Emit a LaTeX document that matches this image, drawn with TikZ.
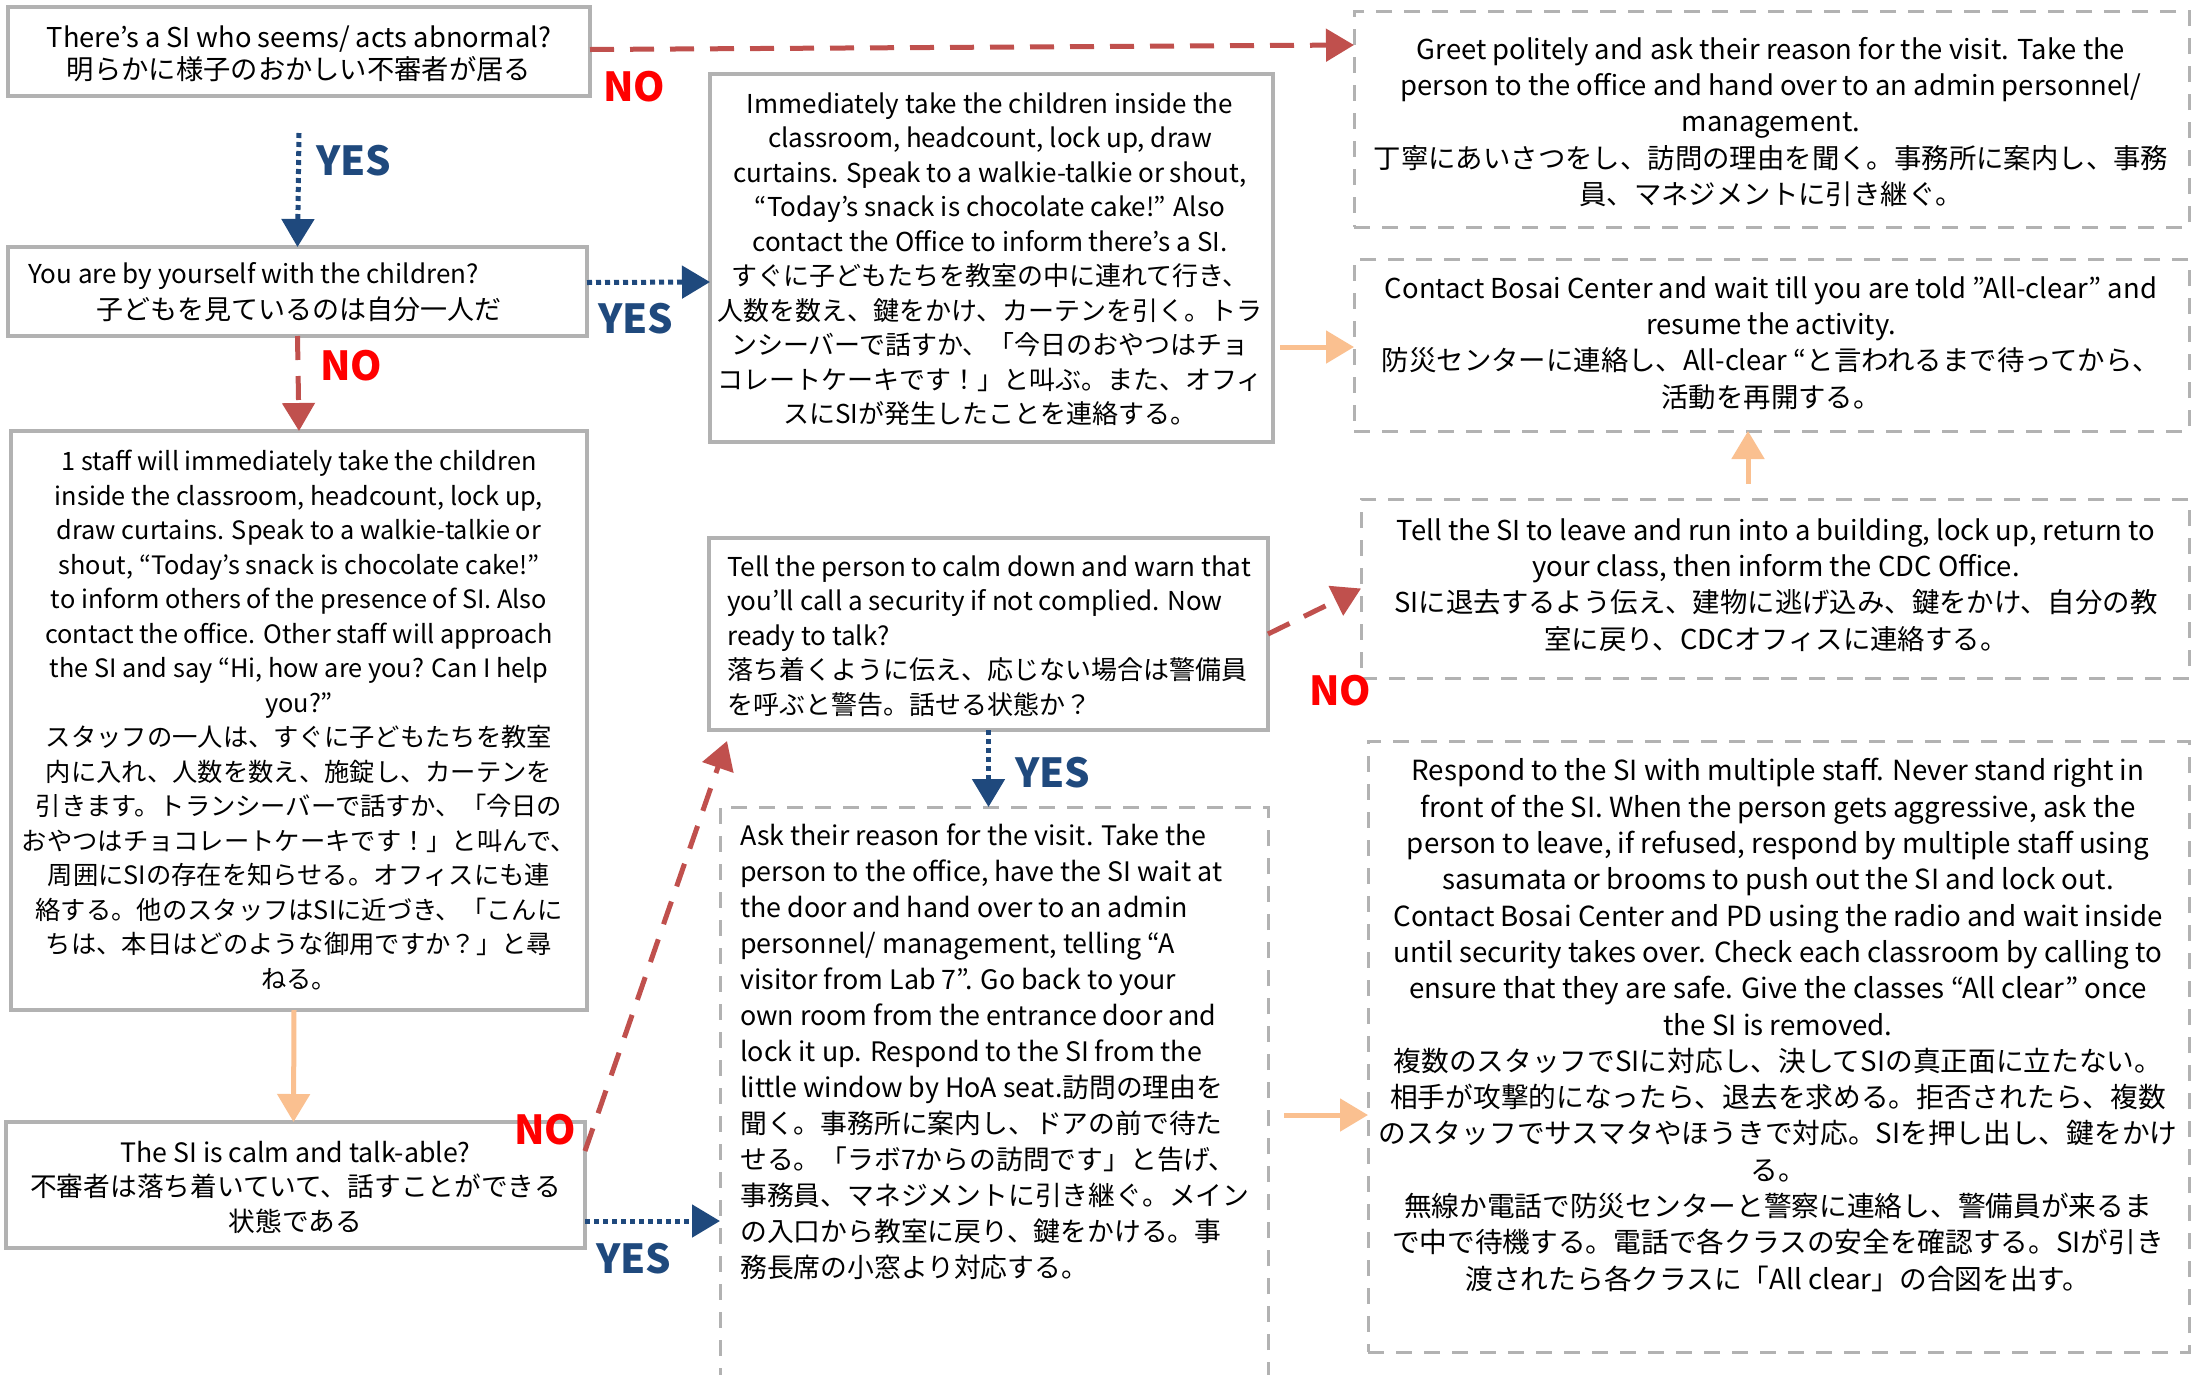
\documentclass[tikz,border=0pt]{standalone}
\usepackage{fontspec}
\setmainfont{Noto Sans CJK JP}
\usetikzlibrary{arrows.meta,calc}
\definecolor{boxgray}{RGB}{178,178,178}
\definecolor{arrred}{RGB}{192,80,77}
\definecolor{nored}{RGB}{255,0,0}
\definecolor{yesblue}{RGB}{31,73,125}
\definecolor{peach}{RGB}{250,192,144}
\begin{document}
\begin{tikzpicture}[x=1pt,y=-1pt,
  box/.style={draw=boxgray, line width=3.5pt, inner sep=0pt, outer sep=0pt},
  dbox/.style={box, line width=3pt, dash pattern=on 16pt off 12pt},
  body/.style={font=\fontsize{26}{34.5}\selectfont, inner sep=0pt, align=center},
  rbody/.style={font=\fontsize{27.4}{36.3}\selectfont, inner sep=0pt, align=center},
  lbody/.style={font=\fontsize{26}{34.5}\selectfont, inner sep=0pt, align=left},
  tip/.style={-{Triangle[length=28pt,width=32pt]}},
  redarr/.style={draw=arrred, line width=5pt, dash pattern=on 24pt off 16pt, tip},
  bluearr/.style={draw=yesblue, line width=5pt, dash pattern=on 5pt off 4pt, tip},
  peacharr/.style={draw=peach, line width=5pt, tip},
  nolab/.style={text=nored, font=\bfseries\fontsize{40}{40}\selectfont, inner sep=0pt},
  yeslab/.style={text=yesblue, font=\bfseries\fontsize{40}{40}\selectfont, inner sep=0pt}
]
\useasboundingbox (0,0) rectangle (2193,1374);
\clip (0,0) rectangle (2193,1374);
\fill[white] (0,0) rectangle (2193,1374);

% ---------- boxes ----------
\node[box, minimum width=582pt, minimum height=89pt] (b1) at (299,51.5) {};
\node[box, minimum width=579pt, minimum height=89pt] (b2) at (297.5,291.5) {};
\node[box, minimum width=576pt, minimum height=579pt] (b3) at (299,720.5) {};
\node[box, minimum width=579pt, minimum height=126pt] (b4) at (295.5,1185) {};
\node[box, minimum width=563pt, minimum height=368pt] (imm) at (991.5,258) {};
\node[box, minimum width=559pt, minimum height=192pt] (tellp) at (988.5,634) {};
\node[dbox, minimum width=548pt, minimum height=583pt] (ask) at (994,1098.5) {};
\node[dbox, minimum width=835pt, minimum height=216pt] (greet) at (1771.5,119) {};
\node[dbox, minimum width=835pt, minimum height=172pt] (contact) at (1771.5,345) {};
\node[dbox, minimum width=828pt, minimum height=179pt] (tellsi) at (1775,588.5) {};
\node[dbox, minimum width=821pt, minimum height=611pt] (resp) at (1778.5,1046.5) {};

% ---------- texts ----------
\node[body, font=\fontsize{27.3}{32}\selectfont] (t1) at (299,54) {There’s a SI who seems/ acts abnormal?\\明らかに様子のおかしい不審者が居る};
\node[body, anchor=west] (t2a) at (28,276) {You are by yourself with the children?};
\node[body, font=\fontsize{27}{34.5}\selectfont] (t2b) at (299,309) {子どもを見ているのは自分一人だ};
\node[body, font=\fontsize{25.3}{34.5}\selectfont] (t3) at (299,720) {1 staff will immediately take the children\\
inside the classroom, headcount, lock up,\\
draw curtains. Speak to a walkie-talkie or\\
shout, “Today’s snack is chocolate cake!”\\
to inform others of the presence of SI. Also\\
contact the office. Other staff will approach\\
the SI and say “Hi, how are you? Can I help\\
you?”\\
スタッフの一人は、すぐに子どもたちを教室\\
内に入れ、人数を数え、施錠し、カーテンを\\
引きます。トランシーバーで話すか、「今日の\\
おやつはチョコレートケーキです！」と叫んで、\\
周囲にSIの存在を知らせる。オフィスにも連\\
絡する。他のスタッフはSIに近づき、「こんに\\
ちは、本日はどのような御用ですか？」と尋\\
ねる。};
\node[body, font=\fontsize{26.7}{34.5}\selectfont] (t4) at (295.5,1187) {The SI is calm and talk-able?\\
不審者は落ち着いていて、話すことができる\\
状態である};
\node[body] (timm) at (990,259) {Immediately take the children inside the\\
classroom, headcount, lock up, draw\\
curtains. Speak to a walkie-talkie or shout,\\
“Today’s snack is chocolate cake!” Also\\
contact the Office to inform there’s a SI.\\
すぐに子どもたちを教室の中に連れて行き、\\
人数を数え、鍵をかけ、カーテンを引く。トラ\\
ンシーバーで話すか、「今日のおやつはチョ\\
コレートケーキです！」と叫ぶ。また、オフィ\\
スにSIが発生したことを連絡する。};
\node[lbody, anchor=west] (ttellp) at (727,636) {Tell the person to calm down and warn that\\
you’ll call a security if not complied. Now\\
ready to talk?\\
落ち着くように伝え、応じない場合は警備員\\
を呼ぶと警告。話せる状態か？};
\node[lbody, anchor=west, font=\fontsize{26.8}{36}\selectfont] (task) at (740,1052) {Ask their reason for the visit. Take the\\
person to the office, have the SI wait at\\
the door and hand over to an admin\\
personnel/ management, telling “A\\
visitor from Lab 7”. Go back to your\\
own room from the entrance door and\\
lock it up. Respond to the SI from the\\
little window by HoA seat.訪問の理由を\\
聞く。事務所に案内し、ドアの前で待た\\
せる。「ラボ7からの訪問です」と告げ、\\
事務員、マネジメントに引き継ぐ。メイン\\
の入口から教室に戻り、鍵をかける。事\\
務長席の小窓より対応する。};
\node[rbody] (tgreet) at (1771,122) {Greet politely and ask their reason for the visit. Take the\\
person to the office and hand over to an admin personnel/\\
management.\\
丁寧にあいさつをし、訪問の理由を聞く。事務所に案内し、事務\\
員、マネジメントに引き継ぐ。};
\node[rbody] (tcontact) at (1771,343) {Contact Bosai Center and wait till you are told ”All-clear” and\\
resume the activity.\\
防災センターに連絡し、All-clear “と言われるまで待ってから、\\
活動を再開する。};
\node[rbody] (ttellsi) at (1776,585) {Tell the SI to leave and run into a building, lock up, return to\\
your class, then inform the CDC Office.\\
SIに退去するよう伝え、建物に逃げ込み、鍵をかけ、自分の教\\
室に戻り、CDCオフィスに連絡する。};
\node[rbody, font=\fontsize{27.7}{36.3}\selectfont] (tresp) at (1778,1025) {Respond to the SI with multiple staff. Never stand right in\\
front of the SI. When the person gets aggressive, ask the\\
person to leave, if refused, respond by multiple staff using\\
sasumata or brooms to push out the SI and lock out.\\
Contact Bosai Center and PD using the radio and wait inside\\
until security takes over. Check each classroom by calling to\\
ensure that they are safe. Give the classes “All clear” once\\
the SI is removed.\\
複数のスタッフでSIに対応し、決してSIの真正面に立たない。\\
相手が攻撃的になったら、退去を求める。拒否されたら、複数\\
のスタッフでサスマタやほうきで対応。SIを押し出し、鍵をかけ\\
る。\\
無線か電話で防災センターと警察に連絡し、警備員が来るま\\
で中で待機する。電話で各クラスの安全を確認する。SIが引き\\
渡されたら各クラスに「All clear」の合図を出す。};

% ---------- connectors ----------
\draw[redarr] ([yshift=2pt]b1.east) -- ([yshift=74pt]greet.west);
\draw[bluearr] ([yshift=-37pt]b1.south) -- (b2.north);
\draw[bluearr] ([yshift=9pt]b2.east) -- ([yshift=-24pt]imm.west);
\draw[redarr] (b2.south) -- (b3.north);
\draw[peacharr] ([xshift=-5pt]b3.south) -- ([xshift=-2pt]b4.north);
\draw[redarr] ([yshift=34pt]b4.east) -- ([shift={(18pt,-11pt)}]tellp.south west);
\draw[bluearr] ([yshift=-36pt]b4.east) -- ([yshift=-122.5pt]ask.west);
\draw[bluearr] (tellp.south) -- (tellp.south |- ask.north);
\draw[redarr] (tellp.east) -- (tellsi.west);
\draw[peacharr] ([shift={(7pt,-89pt)}]imm.east) -- ([yshift=-2pt]contact.west);
\draw[peacharr] ([shift={(-27pt,15pt)}]tellsi.north) -- ([xshift=-23.5pt]contact.south);
\draw[peacharr] ([shift={(16pt,-16.5pt)}]ask.east) -- ([yshift=-68.5pt]resp.west);

% ---------- labels ----------
\node[nolab] (no1) at (634,87) {NO};
\node[yeslab] (yes1) at (354,161) {YES};
\node[yeslab] (yes2) at (636,319) {YES};
\node[nolab] (no2) at (351,366) {NO};
\node[nolab] (no3) at (545,1130) {NO};
\node[yeslab] (yes3) at (634,1259) {YES};
\node[yeslab] (yes4) at (1053,773) {YES};
\node[nolab] (no4) at (1340,691) {NO};
\end{tikzpicture}
\end{document}
